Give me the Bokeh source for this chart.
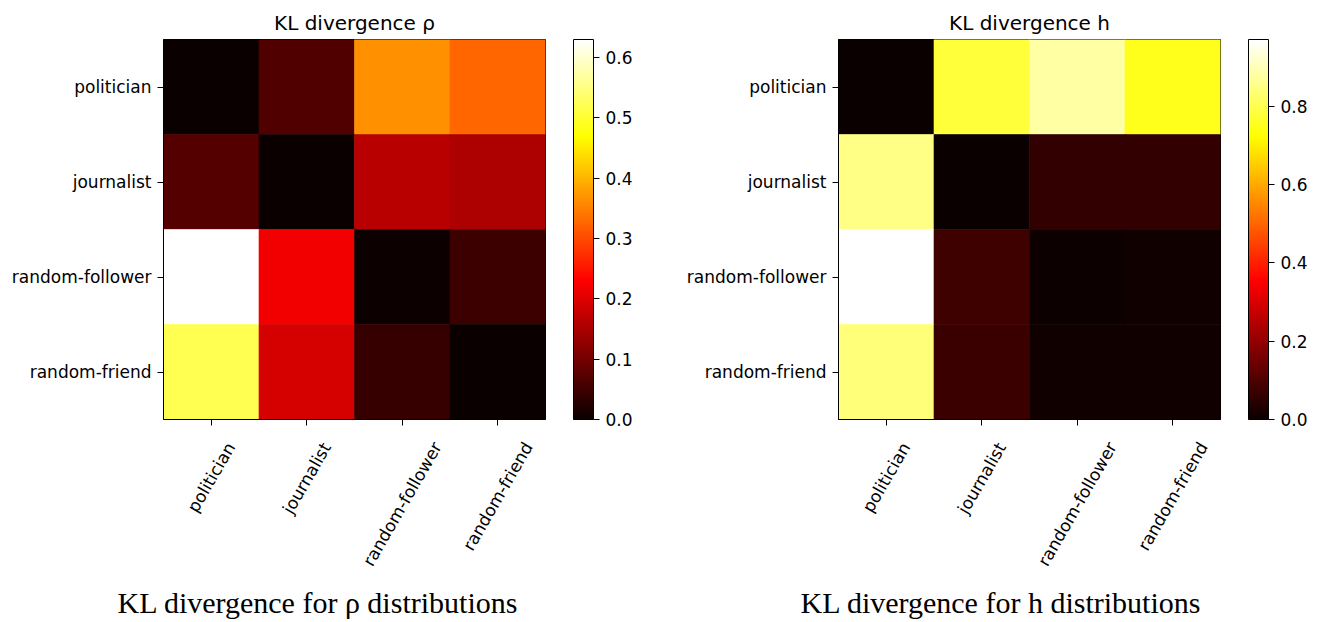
import math
import numpy as np
from bokeh.plotting import figure
from bokeh.models import (FactorRange, Range1d, LinearColorMapper, ColorBar, FixedTicker,
                          PrintfTickFormatter, Title, ColumnDataSource, CustomLabelingPolicy)
from bokeh.core.properties import value
from bokeh.transform import transform
from bokeh.layouts import row, column
from bokeh.embed import file_html
from bokeh.resources import INLINE

# ---------------- data ----------------
categories = ["politician", "journalist", "random-follower", "random-friend"]

# rows = y category (top to bottom), columns = x category (left to right)
rho_kl = [
    [0.000, 0.067, 0.366, 0.327],
    [0.070, 0.000, 0.164, 0.155],
    [0.630, 0.218, 0.003, 0.048],
    [0.520, 0.190, 0.043, 0.000],
]
h_kl = [
    [0.000, 0.780, 0.880, 0.750],
    [0.850, 0.000, 0.060, 0.060],
    [0.970, 0.077, 0.004, 0.008],
    [0.840, 0.070, 0.010, 0.008],
]
rho_ticks = [0.0, 0.1, 0.2, 0.3, 0.4, 0.5, 0.6]
h_ticks = [0.0, 0.2, 0.4, 0.6, 0.8]

rho_title = "KL divergence ρ"
h_title = "KL divergence h"
rho_caption = "KL divergence for ρ distributions"
h_caption = "KL divergence for h distributions"


def hot_palette(n=256):
    xs = np.linspace(0, 1, n)
    r = np.interp(xs, [0, 0.365079, 1], [0.0416, 1, 1])
    g = np.interp(xs, [0, 0.365079, 0.746032, 1], [0, 0, 1, 1])
    b = np.interp(xs, [0, 0.746032, 1], [0, 0, 1])
    return ["#%02x%02x%02x" % (int(round(rr * 255)), int(round(gg * 255)), int(round(bb * 255)))
            for rr, gg, bb in zip(r, g, b)]


HOT = hot_palette()
FONT = "DejaVu Sans"
LABEL_PX = 17
ROT = 60

# approximate DejaVu Sans advance widths (em) for centring rotated labels
_ADV = {"a": .613, "b": .635, "c": .550, "d": .635, "e": .615, "f": .352, "i": .278,
        "j": .278, "l": .278, "m": .974, "n": .634, "o": .612, "p": .635, "r": .411,
        "s": .521, "t": .392, "u": .634, "w": .818, "-": .361}

TOP = 39          # space above heatmap frame
FRAME = 380       # heatmap frame size
HEAT_BOTTOM = 15  # space under heatmap frame (ticks)
HEAT_H = TOP + FRAME + HEAT_BOTTOM
STRIP_FRAME = 148
STRIP_BOTTOM = 40
STRIP_H = STRIP_FRAME + STRIP_BOTTOM
LABEL_PAD = 20    # gap between heatmap frame and top of rotated labels


def rotated_label_center(label):
    L = sum(_ADV.get(ch, .6) for ch in label) * LABEL_PX
    h = 1.164 * LABEL_PX
    a = math.radians(ROT)
    H = L * math.sin(a) + h * math.cos(a)
    # distance (px) from top of strip frame to label centre, expressed as strip y
    return -((LABEL_PAD - HEAT_BOTTOM) + H / 2)


def make_panel(matrix, ticks, title, caption, border_left, width, cap_offset):
    xs, ys, vals = [], [], []
    for i, rname in enumerate(categories):
        for j, cname in enumerate(categories):
            xs.append(cname)
            ys.append(rname)
            vals.append(matrix[i][j])
    src = ColumnDataSource(dict(x=xs, y=ys, v=vals))
    vmax = max(vals)
    mapper = LinearColorMapper(palette=HOT, low=0, high=vmax)
    border_right = width - border_left - FRAME - 2

    x_range = FactorRange(factors=categories)
    p = figure(width=width, height=HEAT_H,
               x_range=x_range,
               y_range=FactorRange(factors=list(reversed(categories))),
               output_backend="svg", toolbar_location=None,
               min_border_left=border_left, min_border_right=border_right,
               min_border_top=TOP, min_border_bottom=HEAT_BOTTOM)
    p.rect(x="x", y="y", width=1, height=1, source=src,
           fill_color=transform("v", mapper), line_color=transform("v", mapper),
           line_width=0.6)

    p.title.text = title
    p.title.align = "center"
    p.title.text_font = FONT
    p.title.text_font_size = "20px"
    p.title.text_font_style = "normal"
    p.title.text_color = "#000000"
    p.title.standoff = 9

    p.grid.visible = False
    p.outline_line_color = "#000000"
    p.outline_line_width = 1
    p.outline_line_alpha = 1
    p.background_fill_color = "white"
    p.border_fill_color = "white"

    for ax in (p.xaxis, p.yaxis):
        ax.axis_line_color = "#000000"
        ax.major_tick_line_color = "#000000"
        ax.major_tick_out = 6
        ax.major_tick_in = 0
        ax.minor_tick_line_color = None
        ax.major_label_text_font = FONT
        ax.major_label_text_font_size = "17px"
        ax.major_label_text_color = "#000000"
        ax.major_label_standoff = 6
    # x tick labels are drawn rotated in the strip below (matplotlib style)
    p.xaxis.major_label_policy = CustomLabelingPolicy(
        code="for (const i of indices) { indices.unset(i) }")
    p.xaxis.major_label_standoff = 0
    p.xaxis.major_label_text_font_size = "1px"

    cb = ColorBar(color_mapper=mapper, width=20, height=FRAME,
                  ticker=FixedTicker(ticks=ticks),
                  formatter=PrintfTickFormatter(format="%.1f"),
                  padding=0, margin=0, location=(28, 0),
                  bar_line_color="#000000", bar_line_width=1,
                  border_line_color=None, background_fill_color=None,
                  major_tick_out=6, major_tick_in=0,
                  major_tick_line_color="#000000",
                  minor_tick_line_color=None,
                  major_label_text_font=FONT,
                  major_label_text_font_size="17px",
                  major_label_text_color="#000000",
                  label_standoff=6)
    p.add_layout(cb, "right")

    # strip below the heatmap holding the rotated category labels and the caption
    s = figure(width=width, height=STRIP_H, x_range=x_range,
               y_range=Range1d(-STRIP_FRAME, 0),
               output_backend="svg", toolbar_location=None,
               x_axis_location=None, y_axis_location=None,
               min_border_left=border_left, min_border_right=border_right,
               min_border_top=0, min_border_bottom=STRIP_BOTTOM)
    s.grid.visible = False
    s.outline_line_color = None
    s.border_fill_color = "white"
    lab_src = ColumnDataSource(dict(x=categories, text=categories,
                                    y=[rotated_label_center(c) for c in categories]))
    s.text(x="x", y="y", text="text", source=lab_src,
           angle=ROT, angle_units="deg", text_align="center",
           text_baseline="middle", text_font=value(FONT),
           text_font_size="17px", text_color="#000000")

    cap = Title(text=caption, align="left", offset=cap_offset,
                text_font="Liberation Serif", text_font_size="30px",
                text_font_style="normal", text_color="#000000", standoff=7)
    s.add_layout(cap, "below")
    return column(p, s, spacing=0)


left = make_panel(rho_kl, rho_ticks, rho_title, rho_caption, 163, 659, -46)
right = make_panel(h_kl, h_ticks, h_title, h_caption, 179, 659, -38)

layout = row(left, right, spacing=0)
open("out.html", "w").write(file_html(layout, INLINE))
